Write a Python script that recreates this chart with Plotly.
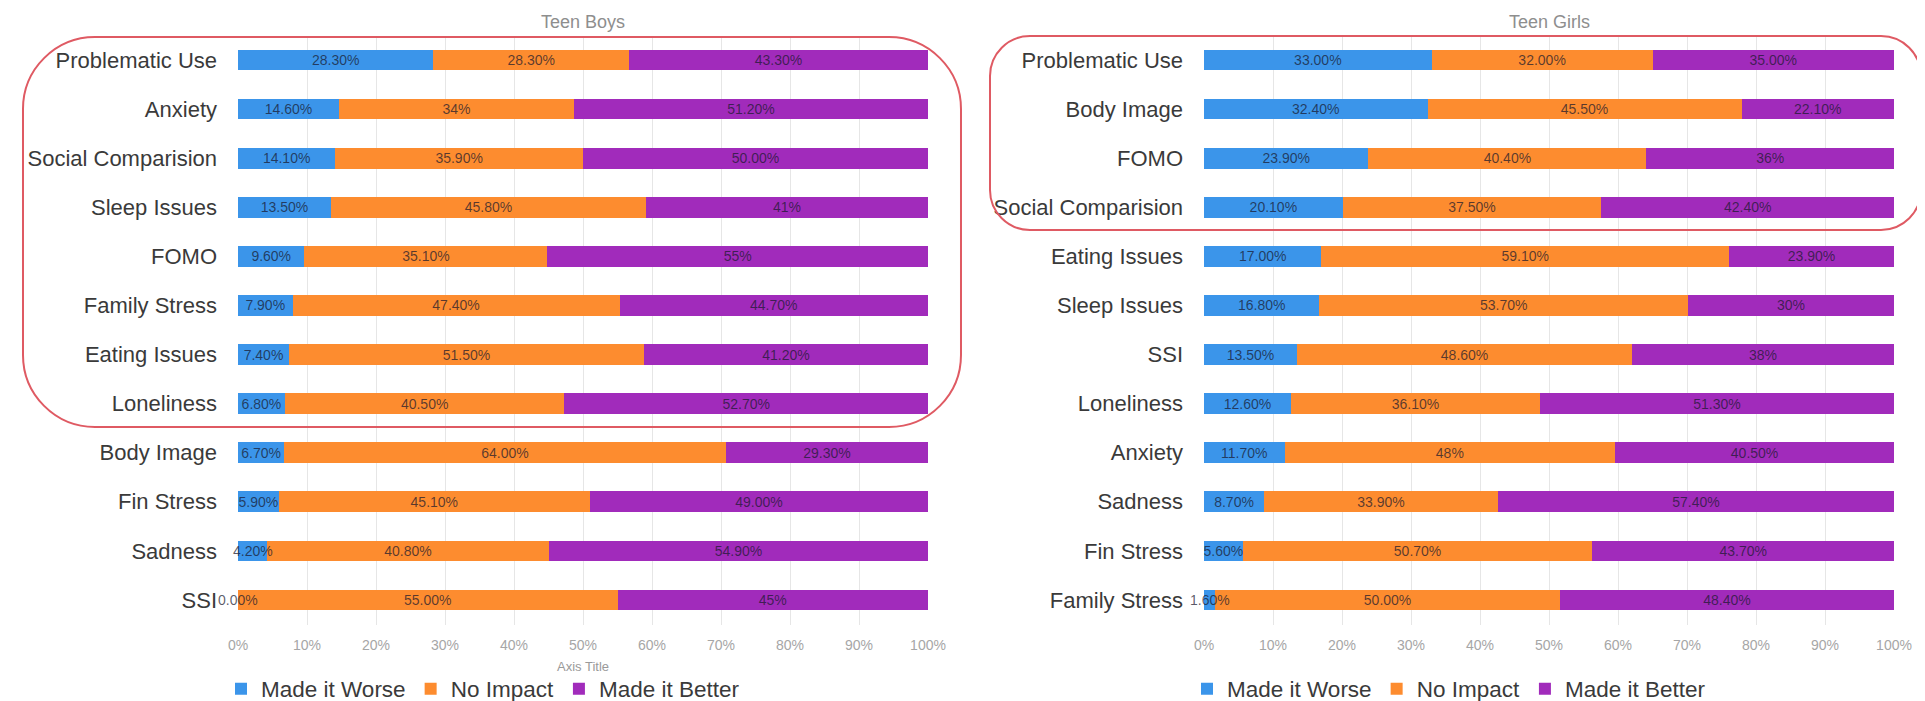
import plotly.graph_objects as go

W, H = 1925, 701
OFF = 8  # the page body adds an 8px margin; layout positions below are given in screen pixels

series_names = ["Made it Worse", "No Impact", "Made it Better"]
colors = ["#3b95ea", "#fd8c2f", "#a12bbb"]

boys_categories = ["Problematic Use", "Anxiety", "Social Comparision", "Sleep Issues", "FOMO",
                   "Family Stress", "Eating Issues", "Loneliness", "Body Image", "Fin Stress",
                   "Sadness", "SSI"]
boys_worse = [28.3, 14.6, 14.1, 13.5, 9.6, 7.9, 7.4, 6.8, 6.7, 5.9, 4.2, 0.0]
boys_none = [28.3, 34.0, 35.9, 45.8, 35.1, 47.4, 51.5, 40.5, 64.0, 45.1, 40.8, 55.0]
boys_better = [43.3, 51.2, 50.0, 41.0, 55.0, 44.7, 41.2, 52.7, 29.3, 49.0, 54.9, 45.0]
boys_worse_lbl = ["28.30%", "14.60%", "14.10%", "13.50%", "9.60%", "7.90%", "7.40%", "6.80%",
                  "6.70%", "5.90%", "4.20%", "0.00%"]
boys_none_lbl = ["28.30%", "34%", "35.90%", "45.80%", "35.10%", "47.40%", "51.50%", "40.50%",
                 "64.00%", "45.10%", "40.80%", "55.00%"]
boys_better_lbl = ["43.30%", "51.20%", "50.00%", "41%", "55%", "44.70%", "41.20%", "52.70%",
                   "29.30%", "49.00%", "54.90%", "45%"]

girls_categories = ["Problematic Use", "Body Image", "FOMO", "Social Comparision", "Eating Issues",
                    "Sleep Issues", "SSI", "Loneliness", "Anxiety", "Sadness", "Fin Stress",
                    "Family Stress"]
girls_worse = [33.0, 32.4, 23.9, 20.1, 17.0, 16.8, 13.5, 12.6, 11.7, 8.7, 5.6, 1.6]
girls_none = [32.0, 45.5, 40.4, 37.5, 59.1, 53.7, 48.6, 36.1, 48.0, 33.9, 50.7, 50.0]
girls_better = [35.0, 22.1, 36.0, 42.4, 23.9, 30.0, 38.0, 51.3, 40.5, 57.4, 43.7, 48.4]
girls_worse_lbl = ["33.00%", "32.40%", "23.90%", "20.10%", "17.00%", "16.80%", "13.50%", "12.60%",
                   "11.70%", "8.70%", "5.60%", "1.60%"]
girls_none_lbl = ["32.00%", "45.50%", "40.40%", "37.50%", "59.10%", "53.70%", "48.60%", "36.10%",
                  "48%", "33.90%", "50.70%", "50.00%"]
girls_better_lbl = ["35.00%", "22.10%", "36%", "42.40%", "23.90%", "30%", "38%", "51.30%",
                    "40.50%", "57.40%", "43.70%", "48.40%"]

x_ticks = [0, 10, 20, 30, 40, 50, 60, 70, 80, 90, 100]
x_tick_text = ["0%", "10%", "20%", "30%", "40%", "50%", "60%", "70%", "80%", "90%", "100%"]

FONT = "Liberation Sans, Arial, sans-serif"
TEXT_COLOR = "rgba(25,25,45,0.72)"
LABEL_SIZE = 14
SMALL = 5.0  # segments narrower than this get their label drawn on top (it overflows the bar)


def PX(x):
    return (x - OFF) / W


def PY(y):
    return 1 - (y - OFF) / H


fig = go.Figure()

panels = [
    ("x", "y", "legend", boys_categories,
     [boys_worse, boys_none, boys_better], [boys_worse_lbl, boys_none_lbl, boys_better_lbl]),
    ("x2", "y2", "legend2", girls_categories,
     [girls_worse, girls_none, girls_better], [girls_worse_lbl, girls_none_lbl, girls_better_lbl]),
]
overflow_labels = []
for xa, ya, lg, cats, vals, lbls in panels:
    totals = [sum(t) for t in zip(*vals)]
    starts = [0.0] * len(cats)
    for name, col, v, t in zip(series_names, colors, vals, lbls):
        bar_text = [lab if val >= SMALL else "" for val, lab in zip(v, t)]
        fig.add_trace(go.Bar(
            y=cats, x=v, orientation="h", name=name, marker=dict(color=col, line=dict(width=0)),
            text=bar_text, textposition="inside", insidetextanchor="middle", constraintext="none",
            textangle=0,
            textfont=dict(size=LABEL_SIZE, color=TEXT_COLOR, family=FONT), cliponaxis=False,
            xaxis=xa, yaxis=ya, legend=lg, hoverinfo="skip",
        ))
        for i, (val, lab) in enumerate(zip(v, t)):
            if val < SMALL:
                overflow_labels.append(dict(text=lab, x=(starts[i] + val / 2) / totals[i] * 100,
                                            y=cats[i], xref=xa, yref=ya))
            starts[i] += val

for a in overflow_labels:
    fig.add_annotation(showarrow=False, xanchor="center", yanchor="middle",
                       font=dict(size=LABEL_SIZE, color=TEXT_COLOR, family=FONT), **a)

px0_l, px1_l = 238, 928
px0_r, px1_r = 1204, 1894
ytop, ybot = 35.5, 624.5
ydom = [PY(ybot), PY(ytop)]

xaxis_common = dict(range=[0, 100], tickvals=x_ticks, ticktext=x_tick_text, showgrid=True,
                    gridcolor="#e6e6e6", gridwidth=1, zeroline=False, showline=False,
                    tickfont=dict(size=14, color="#a6a6a6", family=FONT), ticks="",
                    ticklabelstandoff=10, fixedrange=True, automargin=False)
yaxis_common = dict(range=[11.5, -0.5], showgrid=False, zeroline=False, showline=False, ticks="",
                    tickfont=dict(size=22, color="#3a3a3a", family=FONT), ticklabelstandoff=20,
                    domain=ydom, fixedrange=True, automargin=False)

legend_common = dict(orientation="h", y=PY(689), yanchor="middle", traceorder="normal",
                     font=dict(size=22.5, color="#3a3a3a", family=FONT), bgcolor="rgba(0,0,0,0)")

fig.update_layout(
    width=W, height=H, margin=dict(l=0, r=0, t=0, b=0, autoexpand=False),
    paper_bgcolor="white", plot_bgcolor="white",
    barmode="stack", barnorm="percent", bargap=0.58,
    uniformtext=dict(minsize=LABEL_SIZE, mode="show"),
    font=dict(family=FONT),
    xaxis=dict(domain=[PX(px0_l), PX(px1_l)], anchor="y",
               title=dict(text="Axis Title", font=dict(size=13, color="#9a9a9a"), standoff=10),
               **xaxis_common),
    yaxis=dict(anchor="x", **yaxis_common),
    xaxis2=dict(domain=[PX(px0_r), PX(px1_r)], anchor="y2", **xaxis_common),
    yaxis2=dict(anchor="x2", **yaxis_common),
    legend=dict(x=PX(px0_l - 17), xanchor="left", **legend_common),
    legend2=dict(x=PX(px0_r - 17), xanchor="left", **legend_common),
    showlegend=True,
)

# panel titles
for txt, cx in [("Teen Boys", (px0_l + px1_l) / 2), ("Teen Girls", (px0_r + px1_r) / 2)]:
    fig.add_annotation(text=txt, x=PX(cx), y=PY(22), xref="paper", yref="paper",
                       showarrow=False, xanchor="center", yanchor="middle",
                       font=dict(size=18, color="#8e8e8e", family=FONT))


def rrect(x0, y0, x1, y1, r):
    k = 0.5523 * r
    def P(x, y):
        return f"{PX(x):.5f},{PY(y):.5f}"
    return (f"M{P(x0 + r, y0)} L{P(x1 - r, y0)} "
            f"C{P(x1 - r + k, y0)} {P(x1, y0 + r - k)} {P(x1, y0 + r)} "
            f"L{P(x1, y1 - r)} C{P(x1, y1 - r + k)} {P(x1 - r + k, y1)} {P(x1 - r, y1)} "
            f"L{P(x0 + r, y1)} C{P(x0 + r - k, y1)} {P(x0, y1 - r + k)} {P(x0, y1 - r)} "
            f"L{P(x0, y0 + r)} C{P(x0, y0 + r - k)} {P(x0 + r - k, y0)} {P(x0 + r, y0)} Z")


for box in [(23, 37, 961, 427, 72), (990, 36, 1921, 230, 40)]:
    fig.add_shape(type="path", path=rrect(*box), xref="paper", yref="paper",
                  line=dict(color="#df5a63", width=2), fillcolor="rgba(0,0,0,0)", layer="above")

fig.write_html("out.html")
